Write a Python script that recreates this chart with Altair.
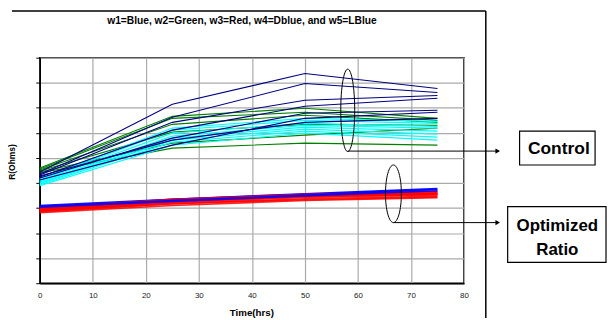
import altair as alt
import pandas as pd

# ---------------- data ----------------
TIME = [0, 25, 50, 75]
X_TICKS = [0, 10, 20, 30, 40, 50, 60, 70, 80]
Y_TICKS = [0, 10, 20, 30, 40, 50, 60, 70, 80, 90]

# control group (w2 = Green, w4 = Dblue, w5 = LBlue)
GREEN_LINES = [
    [46.0, 66.6, 69.8, 65.8],
    [45.6, 65.8, 68.2, 65.0],
    [45.2, 63.4, 67.0, 64.2],
    [44.8, 60.3, 63.4, 63.0],
    [44.4, 55.9, 59.1, 61.9],
    [44.0, 53.9, 55.9, 55.1],
]
CYAN_LINES = [
    [41.6, 61.9, 65.8, 64.6],
    [41.2, 61.1, 65.0, 63.8],
    [40.8, 59.9, 63.8, 62.6],
    [40.4, 58.7, 63.0, 61.9],
    [40.0, 57.9, 62.3, 60.7],
    [39.7, 57.1, 61.5, 59.5],
    [39.3, 56.3, 60.7, 58.3],
    [38.9, 55.1, 59.9, 57.1],
]
NAVY_LINES = [
    [44.4, 71.4, 83.7, 77.7],
    [43.6, 66.2, 79.7, 76.1],
    [43.2, 64.2, 73.0, 74.9],
    [42.4, 61.1, 70.6, 73.8],
    [42.0, 57.9, 67.8, 69.0],
    [41.2, 55.1, 65.8, 68.2],
    [42.8, 57.1, 64.2, 65.8],
]
# optimized ratio group (w1 = Blue, w3 = Red)
RED_LINES = [
    [30.1, 33.5, 35.5, 36.5],
    [29.7, 33.0, 35.1, 36.0],
    [29.3, 32.5, 34.6, 35.6],
    [29.0, 32.1, 34.2, 35.2],
    [28.6, 31.6, 33.7, 34.7],
    [28.2, 31.0, 33.0, 34.1],
    [29.5, 32.8, 34.9, 35.4],
    [28.8, 31.8, 33.3, 34.4],
]
BLUE_LINES = [
    [30.9, 33.4, 35.6, 37.7],
    [30.6, 33.0, 35.2, 37.3],
    [30.3, 32.6, 34.8, 36.9],
]

TITLE = "w1=Blue, w2=Green, w3=Red, w4=Dblue, and w5=LBlue"
FONT = "Liberation Sans, Arial, Helvetica, sans-serif"

PLOT_W, PLOT_H = 427, 227
TOTAL_W, TOTAL_H = 603, 310
PAD_L, PAD_T = 32, 49


def long_frame(lines, group):
    rows = []
    for i, vals in enumerate(lines):
        for t, v in zip(TIME, vals):
            rows.append({"line": f"{group}-{i}", "t": t, "v": v})
    return pd.DataFrame(rows)


x_enc = alt.X(
    "t:Q",
    scale=alt.Scale(domain=[0, 80], nice=False, zero=False),
    axis=alt.Axis(
        values=X_TICKS, title=None, labelFont=FONT, labelFontSize=8,
        labelColor="#222222", ticks=False, labelPadding=8,
        domainColor="black", domainWidth=1.5, gridColor="#aaaaaa",
        gridWidth=1.2, labelFlush=False,
    ),
)
y_enc = alt.Y(
    "v:Q",
    scale=alt.Scale(domain=[0, 90], nice=False, zero=False),
    axis=alt.Axis(
        values=Y_TICKS, labels=False, title=None, tickSize=4,
        tickColor="black", tickWidth=1, domainColor="black", domainWidth=1.5,
        gridColor="#aaaaaa", gridWidth=1.2,
    ),
)


def line_layer(lines, group, color, width, opacity=1.0):
    return alt.Chart(long_frame(lines, group)).mark_line(
        color=color, strokeWidth=width, opacity=opacity
    ).encode(x=x_enc, y=y_enc, detail="line:N")


one = pd.DataFrame({"a": [0]})


def text_at(txt, x, y, size, weight="bold", angle=0, align="center", baseline="middle"):
    return alt.Chart(one).mark_text(
        text=txt, font=FONT, fontSize=size, fontWeight=weight, angle=angle,
        align=align, baseline=baseline, color="black",
    ).encode(x=alt.value(x), y=alt.value(y))


def hrule(x1, x2, y, width=1.0):
    return alt.Chart(one).mark_rule(color="black", strokeWidth=width).encode(
        x=alt.value(x1), x2=alt.value(x2), y=alt.value(y)
    )


def vrule(x, y1, y2, width=1.0):
    return alt.Chart(one).mark_rule(color="black", strokeWidth=width).encode(
        x=alt.value(x), y=alt.value(y1), y2=alt.value(y2)
    )


def box(x1, x2, y1, y2):
    return alt.Chart(one).mark_rect(fill="white", stroke="black", strokeWidth=1.2).encode(
        x=alt.value(x1), x2=alt.value(x2), y=alt.value(y1), y2=alt.value(y2)
    )


def ellipse(x, y, w, h):
    r = w / h
    path = f"M0,-1 A{r:.3f},1 0 1,1 0,1 A{r:.3f},1 0 1,1 0,-1 Z"
    return alt.Chart(one).mark_point(
        shape=path, size=h * h, filled=False, color="black", strokeWidth=1, opacity=1
    ).encode(x=alt.value(x), y=alt.value(y))


def arrow_head(x, y):
    return alt.Chart(one).mark_point(
        shape="triangle-right", size=28, filled=True, color="black", opacity=1
    ).encode(x=alt.value(x), y=alt.value(y))


layers = [
    line_layer(GREEN_LINES, "green", "#008000", 1.1),
    line_layer(CYAN_LINES, "cyan", "#00ffff", 1.1),
    line_layer(NAVY_LINES, "navy", "#000080", 1.1),
    line_layer(RED_LINES, "red", "#ff0000", 1.7, 0.85),
    line_layer(BLUE_LINES[:1], "blue", "#0000ff", 2.0, 0.95),
    line_layer(RED_LINES[:3], "red2", "#ff0000", 1.4, 0.8),
    line_layer(BLUE_LINES[1:], "blue2", "#0000ff", 1.3, 0.85),
    # outer frame (top + right)
    hrule(-28, 449, -47, 1.5),
    vrule(449, -47, 300, 1.5),
    # title and axis titles
    text_at(TITLE, 203.5, -37, 10.3),
    text_at("Time(hrs)", 213.5, 257, 9.8),
    text_at("R(Ohms)", -28, 105, 8.5, angle=270),
    # annotations: control
    ellipse(310, 53, 14, 83),
    hrule(310, 462, 94, 1),
    arrow_head(461, 94),
    box(483, 559, 74, 108),
    text_at("Control", 522.5, 97, 17.5, baseline="alphabetic"),
    # annotations: optimized ratio
    ellipse(356, 137, 16, 58),
    hrule(356, 462, 166, 1),
    arrow_head(461, 166),
    box(471, 570, 150, 206),
    text_at("Optimized", 521, 174, 17, baseline="alphabetic"),
    text_at("Ratio", 521, 199, 17, baseline="alphabetic"),
]

chart = alt.layer(*layers).properties(
    width=PLOT_W,
    height=PLOT_H,
    autosize=alt.AutoSizeParams(type="none"),
    padding={"left": PAD_L, "top": PAD_T,
             "right": TOTAL_W - PAD_L - PLOT_W, "bottom": TOTAL_H - PAD_T - PLOT_H},
    background="white",
).configure_view(stroke="black", strokeWidth=1.5)

chart.save("out.html", embed_options={"renderer": "svg", "actions": False})
